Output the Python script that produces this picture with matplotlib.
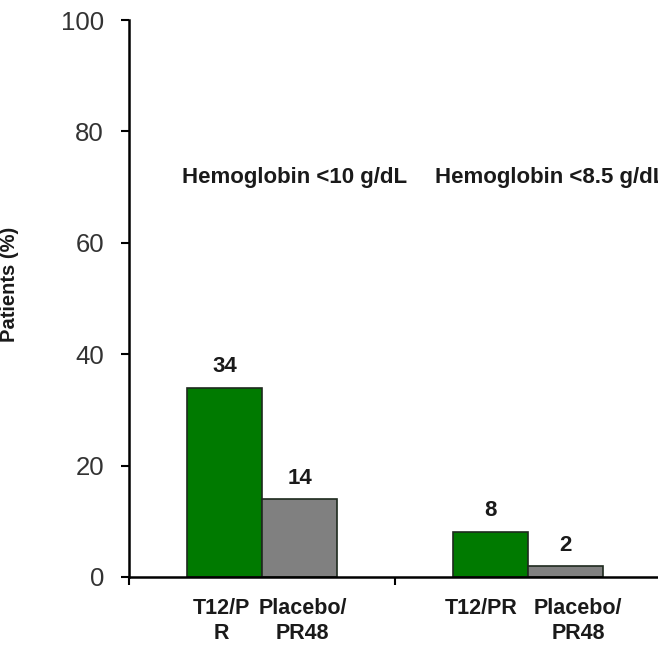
import matplotlib
matplotlib.use("Agg")
import matplotlib.pyplot as plt

plt.rcParams['font.family'] = ['Liberation Sans', 'DejaVu Sans']

groups = ["Hemoglobin <10 g/dL", "Hemoglobin <8.5 g/dL"]
arms = ["T12/PR", "Placebo/PR48"]
cat_labels = [["T12/P\nR", "Placebo/\nPR48"], ["T12/PR", "Placebo/\nPR48"]]
t12_values = [34, 8]
placebo_values = [14, 2]
yticks = [0, 20, 40, 60, 80, 100]

fig = plt.figure(figsize=(6.58, 6.45), dpi=100)
ax = fig.add_axes([129/658, 1-577/645, (661-129)/658, (577-20)/645])

group_centers = [0.5, 1.5]
w = 0.283
green = "#007a00"
gray = "#808080"
edge = "#1e2a1e"
# horizontal nudges (in points) of category labels relative to bar centres
label_shift = [[-2, 2], [-7, 9]]

for i, gc in enumerate(group_centers):
    x1 = gc - w/2
    x2 = gc + w/2
    ax.bar(x1, t12_values[i], width=w, color=green, edgecolor=edge, linewidth=1.2, zorder=2)
    ax.bar(x2, placebo_values[i], width=w, color=gray, edgecolor=edge, linewidth=1.2, zorder=2)
    ax.annotate(str(t12_values[i]), (x1, t12_values[i]), xytext=(0, 8), textcoords="offset points",
                ha="center", va="bottom", fontsize=16, fontweight="bold", color="#1a1a1a")
    ax.annotate(str(placebo_values[i]), (x2, placebo_values[i]), xytext=(0, 7), textcoords="offset points",
                ha="center", va="bottom", fontsize=16, fontweight="bold", color="#1a1a1a")
    for j, xx in enumerate([x1, x2]):
        ax.annotate(cat_labels[i][j], (xx, 0), xytext=(label_shift[i][j], -15),
                    textcoords="offset points", ha="center", va="top", fontsize=15.5,
                    fontweight="bold", color="#1a1a1a", linespacing=1.25, annotation_clip=False)

# group titles
ax.text(0.2, 71.8, groups[0], ha="left", va="center", fontsize=16, fontweight="bold", color="#1a1a1a")
ax.text(1.15, 71.8, groups[1], ha="left", va="center", fontsize=16, fontweight="bold", color="#1a1a1a",
        clip_on=False)

ax.set_xlim(0, 2)
ax.set_ylim(0, 100)
ax.set_yticks(yticks)
ax.set_yticklabels([str(v) for v in yticks], fontsize=18.5, color="#333333")
ax.set_xticks([0, 1, 2])
ax.set_xticklabels([])
ax.tick_params(axis="x", which="major", length=6, width=1.5, direction="out", color="black")
ax.tick_params(axis="y", which="major", length=6, width=1.5, direction="out", color="black", pad=12)

for s in ["top", "right"]:
    ax.spines[s].set_visible(False)
for s in ["left", "bottom"]:
    ax.spines[s].set_linewidth(1.8)
    ax.spines[s].set_color("black")

ax.set_ylabel("Patients (%)", fontsize=14.5, fontweight="bold", color="#1a1a1a")
ax.yaxis.set_label_coords((19-129)/532, (577-284)/557)

fig.savefig("out.png", dpi=100)
